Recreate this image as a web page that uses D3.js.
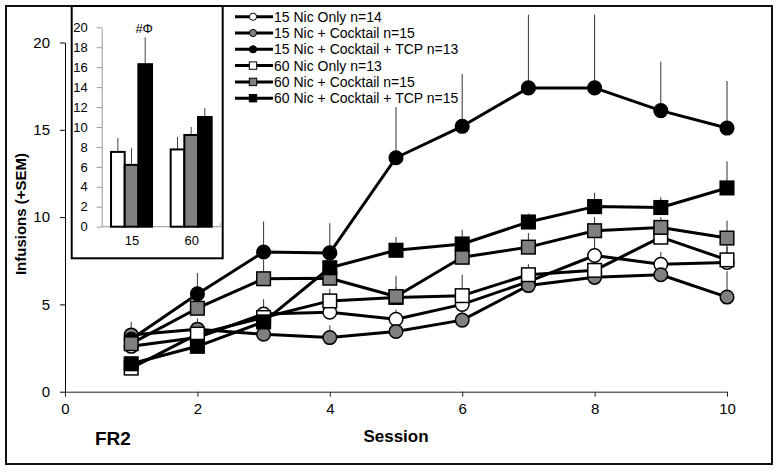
<!DOCTYPE html>
<html>
<head>
<meta charset="utf-8">
<script src="https://cdn.jsdelivr.net/npm/d3@7"></script>
<style>
  html, body { margin: 0; padding: 0; background: #fff; }
  svg { display: block; font-family: "Liberation Sans", Arial, sans-serif; }
</style>
</head>
<body>
<svg id="chart" width="779" height="472"></svg>
<script>
// ---------- DATA ----------
const sessions = [1, 2, 3, 4, 5, 6, 7, 8, 9, 10];
const seriesNames = [
  "15 Nic Only n=14",
  "15 Nic + Cocktail n=15",
  "15 Nic + Cocktail + TCP n=13",
  "60 Nic Only n=13",
  "60 Nic + Cocktail n=15",
  "60 Nic + Cocktail + TCP n=15"
];
const nic15Only      = [2.6, 3.1, 4.45, 4.55, 4.15, 5.0, 6.3, 7.8, 7.3, 7.4];
const nic15Cocktail  = [3.25, 3.58, 3.29, 3.1, 3.45, 4.1, 6.08, 6.55, 6.7, 5.42];
const nic15TCP       = [3.0, 5.6, 8.0, 7.95, 13.4, 15.2, 17.4, 17.4, 16.1, 15.1];
const nic60Only      = [1.35, 3.3, 4.25, 5.2, 5.4, 5.5, 6.7, 6.95, 8.85, 7.55];
const nic60Cocktail  = [2.75, 4.78, 6.47, 6.5, 5.45, 7.7, 8.28, 9.22, 9.41, 8.8];
const nic60TCP       = [1.6, 2.6, 4.0, 7.1, 8.1, 8.46, 9.72, 10.6, 10.55, 11.67];
// value + SEM (top of error bar)
const nic15OnlyTop     = [3.2, 3.8, 5.3, 5.4, 4.7, 5.6, 6.9, 9.0, 8.0, 8.4];
const nic15CocktailTop = [4.0, 4.2, 3.9, 3.8, 4.0, 4.8, 6.6, 7.1, 7.3, 6.9];
const nic15TCPTop      = [3.5, 6.8, 9.75, 9.65, 16.3, 18.2, 21.6, 21.6, 18.9, 17.8];
const nic60OnlyTop     = [1.8, 3.8, 4.9, 5.9, 6.0, 6.7, 7.3, 7.6, 9.3, 8.3];
const nic60CocktailTop = [3.3, 5.5, 7.55, 7.3, 6.64, 8.5, 9.09, 10.0, 10.0, 9.8];
const nic60TCPTop      = [2.0, 3.0, 4.7, 7.8, 8.86, 9.28, 10.2, 11.4, 11.15, 13.2];

const yTicks = [0, 5, 10, 15, 20];
const xTicks = [0, 2, 4, 6, 8, 10];

// inset bar data
const insetGroups = ["15", "60"];
const insetSub = ["Nic Only", "Nic + Cocktail", "Nic + Cocktail + TCP"];
const insetMeans15 = [7.5, 6.2, 16.3];
const insetMeans60 = [7.75, 9.2, 11.0];
const insetTops15 = [8.9, 7.9, 19.0];
const insetTops60 = [9.0, 10.0, 11.9];
const insetTicks = [0, 2, 4, 6, 8, 10, 12, 14, 16, 18, 20];

// ---------- STYLE TABLE ----------
const GRAY = "#808080";
const series = [
  { name: seriesNames[0], vals: nic15Only,     tops: nic15OnlyTop,     shape: "circle", fill: "#fff" },
  { name: seriesNames[1], vals: nic15Cocktail, tops: nic15CocktailTop, shape: "circle", fill: GRAY },
  { name: seriesNames[2], vals: nic15TCP,      tops: nic15TCPTop,      shape: "circle", fill: "#000" },
  { name: seriesNames[3], vals: nic60Only,     tops: nic60OnlyTop,     shape: "square", fill: "#fff" },
  { name: seriesNames[4], vals: nic60Cocktail, tops: nic60CocktailTop, shape: "square", fill: GRAY },
  { name: seriesNames[5], vals: nic60TCP,      tops: nic60TCPTop,      shape: "square", fill: "#000" }
];

const svg = d3.select("#chart");

// outer frame
svg.append("rect").attr("x", 6).attr("y", 6).attr("width", 766).attr("height", 458)
  .attr("fill", "#fff").attr("stroke", "#111").attr("stroke-width", 2);

// ---------- MAIN SCALES ----------
const x = d3.scaleLinear().domain([0, 10]).range([65, 727]);
const y = d3.scaleLinear().domain([0, 20]).range([391.7, 42.5]);

// axes
const yAxis = svg.append("g").attr("transform", "translate(65,0)")
  .call(d3.axisLeft(y).tickValues(yTicks).tickSize(5).tickSizeOuter(0).tickPadding(10));
yAxis.selectAll("text").attr("font-size", 15).attr("fill", "#000")
  .attr("font-family", "Liberation Sans, Arial, sans-serif");
yAxis.selectAll("line,path").attr("stroke", "#000");

const xAxis = svg.append("g").attr("transform", "translate(0,391.7)")
  .call(d3.axisBottom(x).tickValues(xTicks).tickSize(5).tickSizeOuter(0).tickPadding(7));
xAxis.selectAll("text").attr("font-size", 15).attr("fill", "#000")
  .attr("font-family", "Liberation Sans, Arial, sans-serif");
xAxis.selectAll("line,path").attr("stroke", "#222");

// axis titles
svg.append("text").attr("x", 396).attr("y", 442).attr("text-anchor", "middle")
  .attr("font-size", 17).attr("font-weight", "bold").text("Session");
svg.append("text").attr("x", 95).attr("y", 445)
  .attr("font-size", 19).attr("font-weight", "bold").text("FR2");
svg.append("text").attr("transform", "translate(26,214) rotate(-90)")
  .attr("text-anchor", "middle").attr("font-size", 15).attr("font-weight", "bold")
  .text("Infusions (+SEM)");

// ---------- ERROR BARS ----------
const errG = svg.append("g");
series.forEach(s => {
  errG.selectAll(null).data(sessions).enter().append("line")
    .attr("x1", (d) => x(d)).attr("x2", (d) => x(d))
    .attr("y1", (d, i) => y(s.vals[i])).attr("y2", (d, i) => y(s.tops[i]))
    .attr("stroke", "#333").attr("stroke-width", 1);
});

// ---------- LINES + MARKERS ----------
const line = d3.line().x(d => x(d[0])).y(d => y(d[1]));
series.forEach(s => {
  const pts = sessions.map((d, i) => [d, s.vals[i]]);
  svg.append("path").datum(pts).attr("d", line)
    .attr("fill", "none").attr("stroke", "#000").attr("stroke-width", 3)
    .attr("stroke-linejoin", "round");
  const g = svg.append("g");
  if (s.shape === "circle") {
    g.selectAll("circle").data(pts).enter().append("circle")
      .attr("cx", d => x(d[0])).attr("cy", d => y(d[1])).attr("r", 6.8)
      .attr("fill", s.fill).attr("stroke", "#000").attr("stroke-width", 1.5);
  } else {
    g.selectAll("rect").data(pts).enter().append("rect")
      .attr("x", d => x(d[0]) - 6.8).attr("y", d => y(d[1]) - 6.8)
      .attr("width", 13.6).attr("height", 13.6)
      .attr("fill", s.fill).attr("stroke", "#000").attr("stroke-width", 1.5);
  }
});

// ---------- LEGEND ----------
const leg = svg.append("g");
series.forEach((s, i) => {
  const ly = 16.7 + i * 16.3;
  const row = leg.append("g").attr("transform", `translate(0,${ly})`);
  row.append("line").attr("x1", 235).attr("x2", 273).attr("y1", 0).attr("y2", 0)
    .attr("stroke", "#000").attr("stroke-width", 3);
  if (s.shape === "circle") {
    row.append("circle").attr("cx", 253).attr("cy", 0).attr("r", 3.6)
      .attr("fill", s.fill).attr("stroke", "#000").attr("stroke-width", 1);
  } else {
    row.append("rect").attr("x", 249.3).attr("y", -3.7).attr("width", 7.4).attr("height", 7.4)
      .attr("fill", s.fill).attr("stroke", "#000").attr("stroke-width", 1);
  }
  row.append("text").attr("x", 274).attr("y", 5).attr("font-size", 14).text(s.name);
});

// ---------- INSET ----------
svg.append("rect").attr("x", 71.7).attr("y", 6).attr("width", 151).attr("height", 252.3)
  .attr("fill", "#fff").attr("stroke", "#000").attr("stroke-width", 2);

const iy = d3.scaleLinear().domain([0, 20]).range([226.7, 27.3]);
const ix = d3.scalePoint().domain(insetGroups).range([101.7, 221]).padding(0.5);
const isub = d3.scaleBand().domain(insetSub).range([-20.5, 20.5]);

const iyAxis = svg.append("g").attr("transform", "translate(101.7,0)")
  .call(d3.axisLeft(iy).tickValues(insetTicks).tickSize(5).tickSizeOuter(0).tickPadding(9));
iyAxis.selectAll("text").attr("font-size", 13).attr("fill", "#000")
  .attr("font-family", "Liberation Sans, Arial, sans-serif");
iyAxis.selectAll("line,path").attr("stroke", "#999");

const ixAxis = svg.append("g").attr("transform", "translate(0,226.7)")
  .call(d3.axisBottom(ix).tickSize(0).tickSizeOuter(0).tickPadding(9));
ixAxis.select("path").attr("d", "M101.7,0H221V-4").attr("stroke", "#999");
ixAxis.selectAll("text").attr("font-size", 13).attr("fill", "#000")
  .attr("font-family", "Liberation Sans, Arial, sans-serif");

const insetFills = ["#fff", GRAY, "#000"];
const insetData = [];
insetGroups.forEach((g, gi) => {
  const means = gi === 0 ? insetMeans15 : insetMeans60;
  const tops = gi === 0 ? insetTops15 : insetTops60;
  insetSub.forEach((s, si) => insetData.push({ g, s, si, v: means[si], top: tops[si] }));
});
const ig = svg.append("g");
ig.selectAll("line.err").data(insetData).enter().append("line")
  .attr("x1", d => ix(d.g) + isub(d.s) + isub.bandwidth() / 2)
  .attr("x2", d => ix(d.g) + isub(d.s) + isub.bandwidth() / 2)
  .attr("y1", d => iy(d.v)).attr("y2", d => iy(d.top))
  .attr("stroke", "#444").attr("stroke-width", 1);
ig.selectAll("rect").data(insetData).enter().append("rect")
  .attr("x", d => ix(d.g) + isub(d.s)).attr("y", d => iy(d.v))
  .attr("width", isub.bandwidth()).attr("height", d => iy(0) - iy(d.v))
  .attr("fill", d => insetFills[d.si]).attr("stroke", "#000").attr("stroke-width", 2);

svg.append("text")
  .attr("x", ix("15") + isub(insetSub[2]) + isub.bandwidth() / 2 - 1)
  .attr("y", iy(20) + 6).attr("text-anchor", "middle").attr("font-size", 13)
  .text("#Φ");
</script>
</body>
</html>
